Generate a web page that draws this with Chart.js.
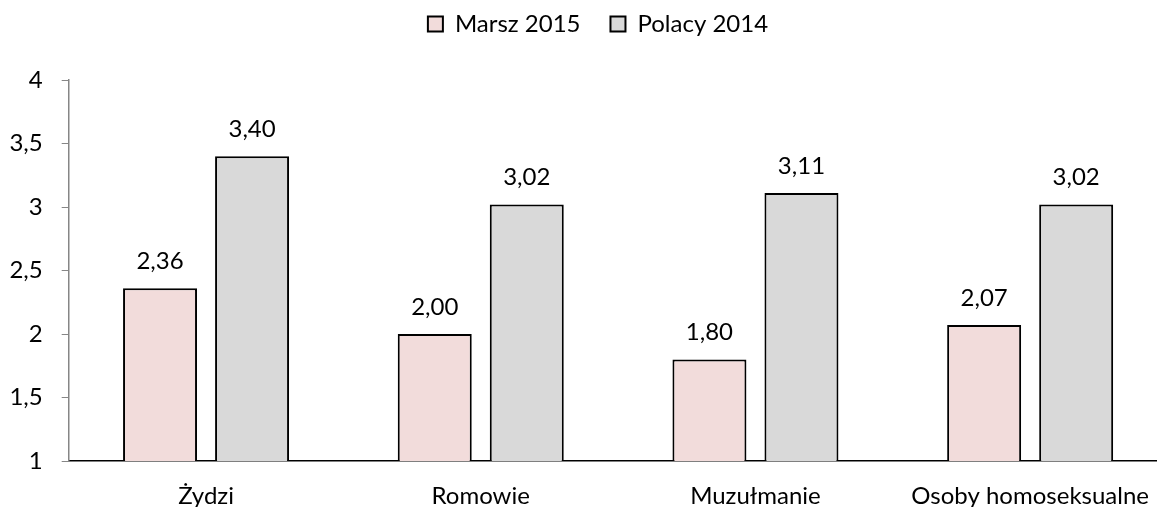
<!DOCTYPE html>
<html>
<head>
<meta charset="utf-8">
<script src="https://cdn.jsdelivr.net/npm/chart.js@4.4.0/dist/chart.umd.min.js"></script>
<style>
  html, body { margin: 0; padding: 0; background: #fff; overflow: hidden; }
  #wrap { position: relative; width: 1196px; height: 507px; }
</style>
</head>
<body>
<div id="wrap"><canvas id="myBarChart"></canvas></div>
<script>
const categories = ['Żydzi', 'Romowie', 'Muzułmanie', 'Osoby homoseksualne'];
const marsz2015 = [2.36, 2.00, 1.80, 2.07];
const polacy2014 = [3.40, 3.02, 3.11, 3.02];
const seriesNames = ['Marsz 2015', 'Polacy 2014'];

const FONT = 'Lato';

// format numbers with a comma, like the original
function plNum(v, digits) {
    return (digits === undefined ? String(v) : v.toFixed(digits)).replace('.', ',');
}

// simple value labels above each bar
const barValues = {
    id: 'barValues',
    afterDatasetsDraw(chart) {
        const ctx = chart.ctx;
        ctx.save();
        ctx.font = '24px ' + FONT;
        ctx.fillStyle = '#000';
        ctx.textAlign = 'center';
        ctx.textBaseline = 'alphabetic';
        chart.data.datasets.forEach((ds, i) => {
            chart.getDatasetMeta(i).data.forEach((bar, j) => {
                ctx.fillText(plNum(ds.data[j], 2), bar.x, bar.y - 19);
            });
        });
        ctx.restore();
    }
};

// make the legend box taller so the plot starts lower,
// and centre it on the whole canvas instead of the padded area
const legendSpace = {
    id: 'legendSpace',
    afterInit(chart) {
        const legend = chart.legend;
        const origFit = legend.fit;
        legend.fit = function () {
            origFit.call(this);
            this.height = 98;
        };
    },
    afterLayout(chart) {
        chart.legend.right = chart.width;
    }
};

document.addEventListener('DOMContentLoaded', function () {
    const ctx = document.getElementById('myBarChart').getContext('2d');
    new Chart(ctx, {
        type: 'bar',
        data: {
            labels: categories,
            datasets: [{
                label: seriesNames[0],
                data: marsz2015,
                backgroundColor: '#F2DCDB',
                borderColor: '#000',
                borderWidth: 2
            }, {
                label: seriesNames[1],
                data: polacy2014,
                backgroundColor: '#D9D9D9',
                borderColor: '#000',
                borderWidth: 2
            }]
        },
        options: {
            responsive: true,
            maintainAspectRatio: false,
            animation: false,
            categoryPercentage: 0.67,
            barPercentage: 0.804,
            layout: {
                padding: { top: -18, right: 28.5, bottom: 0, left: 0 }
            },
            plugins: {
                legend: {
                    position: 'top',
                    labels: {
                        color: '#000',
                        font: { family: FONT, size: 24 },
                        boxWidth: 15,
                        boxHeight: 15,
                        padding: 30
                    }
                },
                tooltip: { enabled: false }
            },
            scales: {
                x: {
                    afterFit: (scale) => { scale.height = 46; },
                    grid: { display: false, drawTicks: false },
                    border: { color: '#000', width: 1.5 },
                    ticks: {
                        color: '#000',
                        font: { family: FONT, size: 24 },
                        padding: 21,
                        maxRotation: 0,
                        autoSkip: false
                    }
                },
                y: {
                    min: 1,
                    max: 4,
                    afterFit: (scale) => { scale.width = 68.7; },
                    grid: {
                        drawOnChartArea: false,
                        drawTicks: true,
                        tickLength: 7,
                        color: '#868686'
                    },
                    border: { color: '#868686', width: 1.5 },
                    ticks: {
                        stepSize: 0.5,
                        color: '#000',
                        font: { family: FONT, size: 24 },
                        padding: 19,
                        callback: (v) => plNum(v)
                    }
                }
            }
        },
        plugins: [barValues, legendSpace]
    });
});
</script>
</body>
</html>
